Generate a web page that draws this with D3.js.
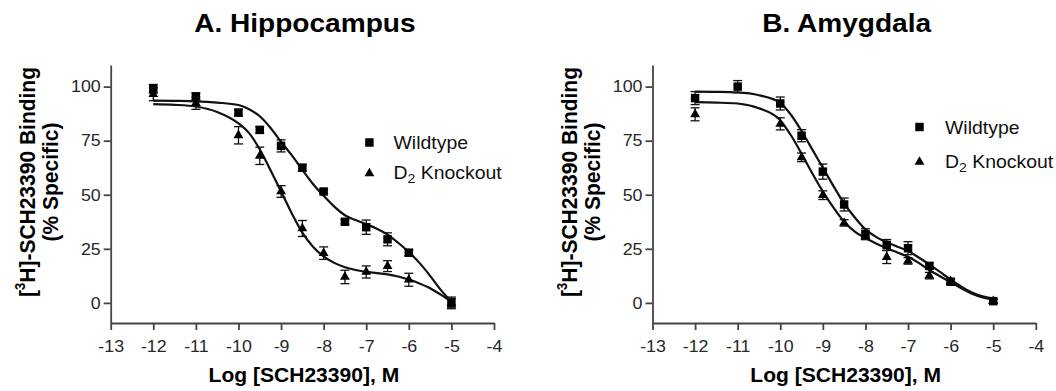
<!DOCTYPE html>
<html>
<head>
<meta charset="utf-8">
<script src="https://cdn.jsdelivr.net/npm/d3@7"></script>
<style>
  body { margin: 0; background: #fff; }
  svg { display: block; }
</style>
</head>
<body>
<svg id="chart" width="1056" height="391"></svg>
<script>
// log dose of SCH23390 (M) used for the measured points
const doses = [-12, -11, -10, -9.5, -9, -8.5, -8, -7.5, -7, -6.5, -6, -5];

// A. Hippocampus
const hipWT = [99, 95.5, 88, 80, 72.6, 62.5, 51.5, 37.5, 35, 29.4, 23.2, 0];
const hipWTErr = [2, 1.5, 1.5, 1.5, 2.8, 1.5, 1, 1, 3.3, 3, 1.5, 2.7];
const hipKO = [96.5, 92.3, 77.5, 68, 51.5, 34.4, 23, 12, 14.3, 17, 10.7, 0];
const hipKOErr = [3, 2.8, 4, 4, 2.7, 3.7, 2.9, 3.1, 2.8, 2.5, 3, 2];

// B. Amygdala
const amyWT = [94.7, 100, 92.2, 77.3, 60.7, 45.5, 31.8, 26.8, 25.3, 17.1, 9.8, 0.8];
const amyWTErr = [3, 2.8, 3, 2.8, 3.5, 3, 2.5, 2.5, 3, 1.5, 1.2, 1];
const amyKO = [87.2, null, 82.8, 67.3, 49.8, 37, 30.8, 21.2, 19.4, 12.6, 10, 0.8];
const amyKOErr = [3, 0, 2.8, 2, 2, 1.5, 1.5, 3, 1.5, 1.5, 1, 1];

// fitted curves
const fitX = [-12, -11.5, -11, -10.5, -10, -9.75, -9.5, -9.25, -9, -8.75, -8.5, -8.25, -8,
  -7.75, -7.5, -7.25, -7, -6.75, -6.5, -6.25, -6, -5.75, -5.5, -5.25, -5];
const hipWTFit = [93.5, 93.4, 93.2, 92.6, 91.5, 89.5, 86.3, 81, 74.5, 68.3, 61.5, 55, 49.5,
  44.5, 40.5, 38.3, 36.4, 34.3, 31.6, 27.8, 23.5, 18.5, 12.5, 6, 0.5];
const hipKOFit = [91.9, 91.6, 90.8, 88.3, 83, 78.5, 71, 61.5, 51.5, 41.5, 32.5, 26, 21.5,
  18.5, 16.5, 15.2, 14.3, 13.8, 13.2, 12.2, 10.8, 9, 6.8, 3.8, 0.5];
const amyWTFit = [97.7, 97.6, 97.3, 96, 92.5, 87, 79.5, 71, 62.5, 54, 46, 39.5, 34,
  30.5, 28, 26, 24, 21, 17.8, 14.3, 10.8, 7.5, 4.8, 3, 1.9];
const amyKOFit = [92.8, 92.6, 92.2, 90, 84.5, 77.5, 69, 60, 51.5, 44, 37.5, 33, 30,
  27.5, 25.3, 23.3, 21.3, 18.5, 15.2, 12.3, 9.6, 6.7, 4.2, 2.5, 1.5];

const xTicks = [-13, -12, -11, -10, -9, -8, -7, -6, -5, -4];
const yTicks = [0, 25, 50, 75, 100];
const seriesNames = ["Wildtype", "Knockout"];

const FONT = '"Liberation Sans", Arial, Helvetica, sans-serif';
const SX = 1.08; // the original lettering is a little wide
const plotW = 383.3;
const axisTop = 65, axisBottom = 323;

const svg = d3.select("#chart");

function drawPanel(p) {
  const g = svg.append("g").attr("transform", `translate(${p.left},0)`);

  const x = d3.scaleLinear().domain([-13, -4]).range([0, plotW]);
  const y = d3.scaleLinear().domain([-9.3, 110]).range([axisBottom, axisTop]);

  // title
  g.append("text")
    .attr("transform", `translate(${plotW / 2 + 2.5},32) scale(${SX},1)`)
    .attr("text-anchor", "middle")
    .style("font-family", FONT)
    .style("font-weight", "bold")
    .style("font-size", "26px")
    .text(p.title);

  // axes
  const yAxis = g.append("g")
    .call(d3.axisLeft(y).tickValues(yTicks).tickSize(7).tickSizeOuter(0));
  const xAxis = g.append("g")
    .attr("transform", `translate(0,${axisBottom})`)
    .call(d3.axisBottom(x).tickValues(xTicks).tickSize(7).tickSizeOuter(0).tickFormat(d3.format("d")));

  [yAxis, xAxis].forEach((a) => {
    a.selectAll("path, line").attr("stroke", "#444").attr("stroke-width", 1.8);
    a.selectAll("text")
      .attr("fill", "#282828")
      .style("font-family", FONT)
      .style("font-size", "16.5px");
  });
  yAxis.selectAll("text").attr("x", -10 / SX).attr("transform", `scale(${SX},1)`);
  xAxis.selectAll("text").attr("y", 29).attr("dy", 0).attr("transform", `scale(${SX},1)`)
    .text((d) => (d < 0 ? "-" + Math.abs(d) : d));

  // axis titles
  g.append("text")
    .attr("transform", `translate(${plotW / 2 + 1.5},382) scale(${SX},1)`)
    .attr("text-anchor", "middle")
    .style("font-family", FONT)
    .style("font-weight", "bold")
    .style("font-size", "19.5px")
    .text("Log [SCH23390], M");

  const yl1 = g.append("text")
    .attr("transform", `translate(-76,182) scale(${SX},1) rotate(-90)`)
    .attr("text-anchor", "middle")
    .style("font-family", FONT)
    .style("font-weight", "bold")
    .style("font-size", "21px");
  yl1.append("tspan").text("[");
  yl1.append("tspan").attr("dy", -9).style("font-size", "13px").text("3");
  yl1.append("tspan").attr("dy", 9).text("H]-SCH23390 Binding");

  g.append("text")
    .attr("transform", `translate(-53,182) scale(${SX},1) rotate(-90)`)
    .attr("text-anchor", "middle")
    .style("font-family", FONT)
    .style("font-weight", "bold")
    .style("font-size", "21px")
    .text("(% Specific)");

  // fitted curves
  const line = d3.line()
    .x((d) => x(d[0]))
    .y((d) => y(d[1]))
    .curve(d3.curveMonotoneX);
  [p.wtFit, p.koFit].forEach((fit) => {
    g.append("path")
      .datum(d3.zip(fitX, fit))
      .attr("fill", "none")
      .attr("stroke", "#111")
      .attr("stroke-width", 2.2)
      .attr("d", line);
  });

  // points with error bars
  const square = d3.symbol(d3.symbolSquare, 72)();
  const triangle = d3.symbol(d3.symbolTriangle, 42)();
  const series = [
    { vals: p.wt, err: p.wtErr, shape: square },
    { vals: p.ko, err: p.koErr, shape: triangle },
  ];
  series.forEach((s) => {
    const pts = doses.map((d, i) => ({ d, v: s.vals[i], e: s.err[i] }))
      .filter((q) => q.v !== null);
    const eb = g.append("g").attr("stroke", "#111").attr("stroke-width", 1.3);
    pts.forEach((q) => {
      const cx = x(q.d);
      eb.append("line").attr("x1", cx).attr("x2", cx).attr("y1", y(q.v - q.e)).attr("y2", y(q.v + q.e));
      [q.v - q.e, q.v + q.e].forEach((v) => {
        eb.append("line").attr("x1", cx - 4.5).attr("x2", cx + 4.5).attr("y1", y(v)).attr("y2", y(v));
      });
    });
    g.append("g").selectAll("path")
      .data(pts)
      .join("path")
      .attr("d", s.shape)
      .attr("fill", "#000")
      .attr("transform", (q) => `translate(${x(q.d)},${y(q.v)})`);
  });

  // legend
  const lg = svg.append("g");
  lg.append("path").attr("d", square).attr("fill", "#000")
    .attr("transform", `translate(${p.legX},${p.legY[0]})`);
  lg.append("path").attr("d", triangle).attr("fill", "#000")
    .attr("transform", `translate(${p.legX},${p.legY[1] + 1})`);
  lg.append("text")
    .attr("transform", `translate(${p.legTextX},${p.legY[0] + 6.5}) scale(${SX},1)`)
    .style("font-family", FONT)
    .style("font-size", "18px")
    .attr("fill", "#111")
    .text(seriesNames[0]);
  const ko = lg.append("text")
    .attr("transform", `translate(${p.legTextX},${p.legY[1] + 6.5}) scale(${SX},1)`)
    .style("font-family", FONT)
    .style("font-size", "18px")
    .attr("fill", "#111");
  ko.append("tspan").text("D");
  ko.append("tspan").attr("dy", 4).style("font-size", "13px").text("2");
  ko.append("tspan").attr("dy", -4).text(" " + seriesNames[1]);
}

drawPanel({
  left: 110.7, title: "A. Hippocampus",
  wt: hipWT, wtErr: hipWTErr, ko: hipKO, koErr: hipKOErr,
  wtFit: hipWTFit, koFit: hipKOFit,
  legX: 369.4, legTextX: 393.5, legY: [142.5, 172.5],
});

drawPanel({
  left: 652.5, title: "B. Amygdala",
  wt: amyWT, wtErr: amyWTErr, ko: amyKO, koErr: amyKOErr,
  wtFit: amyWTFit, koFit: amyKOFit,
  legX: 919.5, legTextX: 945, legY: [127, 161],
});
</script>
</body>
</html>
